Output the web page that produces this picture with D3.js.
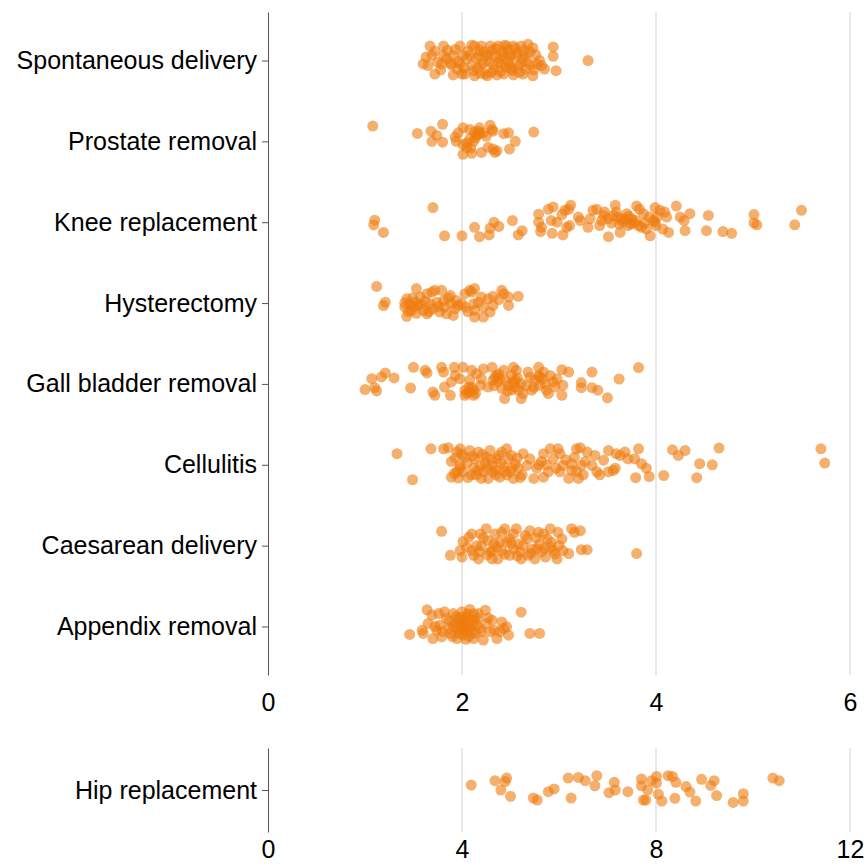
<!DOCTYPE html>
<html>
<head>
<meta charset="utf-8">
<script src="https://cdn.jsdelivr.net/npm/d3@7"></script>
<style>
    body { margin: 0; background: #fff; }
    svg { display: block; font-family: "Liberation Sans", Arial, sans-serif; }
</style>
</head>
<body>
<div id="chart"></div>
<script>
// Each point is [length of stay, vertical jitter (-1..1)]
const spontaneous = [
    [1.67,-0.85],[1.81,-0.85],[1.98,-0.85],[2.13,-0.85],[2.20,-0.85],[2.29,-0.85],[2.37,-0.85],[2.46,-0.85],
    [2.53,-0.85],[2.61,-0.85],[2.68,-0.95],[2.73,-0.75],[2.94,-0.8],[2.94,-0.25],
    [1.69,-0.3],[1.81,-0.3],[1.91,-0.3],[2.01,-0.3],[2.08,-0.3],[2.17,-0.3],[2.25,-0.3],[2.34,-0.3],
    [2.43,-0.3],[2.49,-0.3],[2.56,-0.3],[2.65,-0.3],
    [1.60,0.2],[1.65,0.3],[1.79,0.2],[1.89,0.25],[1.98,0.2],[2.10,0.3],[2.20,0.2],[2.32,0.25],
    [2.41,0.2],[2.49,0.3],[2.60,0.2],[2.70,0.25],[2.77,0.2],[2.82,0.3],
    [1.72,0.8],[1.91,0.85],[2.03,0.8],[2.13,0.9],[2.24,0.8],[2.36,0.85],[2.43,0.8],[2.53,0.85],
    [2.63,0.8],[2.73,0.9],[2.97,0.6],[3.30,0.0],
    [1.75,0.1],[1.85,-0.6],[1.95,0.5],[2.05,-0.1],[2.12,0.6],[2.18,-0.6],[2.22,0.2],[2.27,-0.3],
    [2.30,0.7],[2.35,-0.7],[2.38,0.1],[2.42,-0.5],[2.45,0.4],[2.50,-0.2],[2.52,0.6],[2.55,-0.7],
    [2.58,0.3],[2.62,-0.1],[2.66,0.5],[2.70,-0.5],[2.00,0.8],[2.10,-0.9],[2.26,0.9],[2.44,-0.9],[1.88,0.15],
    [1.72,-0.55],[1.78,0.55],[1.84,-0.1],[1.93,-0.65],[1.96,0.05],[2.02,0.45],[2.06,-0.55],[2.15,-0.15],
    [2.16,0.45],[2.23,-0.5],[2.28,0.05],[2.33,0.55],[2.39,-0.15],[2.40,0.65],[2.47,-0.6],[2.48,0.05],
    [2.51,0.45],[2.57,-0.45],[2.59,0.7],[2.64,-0.6],[2.67,0.05],[2.74,0.55],[2.76,-0.35],[2.80,0.0],
    [2.85,0.5],[1.63,-0.2],[2.19,0.75],[2.31,-0.6]
];
const prostate = [
    [1.08,-0.9],[1.54,-0.47],[1.68,-0.6],[1.74,-0.35],[1.69,0.0],[1.80,-1.0],[1.80,0.05],[1.93,-0.25],
    [1.94,0.0],[2.01,-0.8],[2.01,0.18],[2.01,0.76],[2.05,0.37],[2.10,0.7],[2.08,-0.7],[2.13,-0.55],
    [2.15,-0.35],[2.18,-0.8],[2.18,-0.45],[2.20,0.65],[2.27,0.35],[2.29,-0.95],[2.31,-0.7],[2.32,-0.6],
    [2.32,0.45],[2.34,0.65],[2.43,-0.45],[2.48,-0.5],[2.49,0.45],[2.55,0.0],[2.74,-0.55],[2.12,0.0],[2.08,-0.15],
    [2.14,-0.2],[2.17,-0.6],[2.22,-0.5],[2.05,0.1],[2.09,0.4],[2.25,-0.3],[2.36,0.55],[1.96,-0.5]
];
const knee = [
    [1.10,-0.12],[1.09,0.16],[1.19,0.6],[1.70,-0.86],[1.82,0.8],[2.00,0.8],[2.13,0.3],[2.18,0.85],
    [2.29,0.35],[2.28,0.75],[2.33,0.0],[2.38,0.25],[2.52,-0.1],[2.58,0.75],[2.62,0.5],[2.79,-0.47],
    [2.79,0.0],[2.82,0.3],[2.81,0.55],[2.89,-0.76],[2.94,-0.9],[2.92,-0.1],[2.93,0.65],[2.98,0.0],
    [3.04,0.75],[3.03,-0.45],[3.06,-0.7],[3.10,-0.76],[3.12,-1.0],[3.11,0.2],[3.08,0.3],[3.20,-0.3],
    [3.22,-0.1],[3.30,0.3],[3.32,-0.2],[3.35,-0.7],[3.39,-0.76],[3.44,-0.1],[3.47,-0.6],[3.51,-0.2],
    [3.51,0.85],[3.54,0.05],[3.58,-1.0],[3.59,-0.6],[3.61,-0.3],[3.63,0.6],[3.66,0.0],[3.70,-0.5],
    [3.71,0.2],[3.75,-0.2],[3.80,-0.95],[3.82,0.2],[3.83,-0.76],[3.87,-0.5],[3.90,0.4],[3.94,0.8],
    [3.99,-0.86],[3.99,0.0],[4.01,-0.3],[4.04,-0.7],[4.07,0.4],[4.09,-0.6],[4.11,-0.3],[4.13,0.6],
    [4.21,-0.95],[4.25,-0.3],[4.29,-0.1],[4.30,0.5],[4.35,-0.5],[4.52,0.5],[4.54,-0.4],[4.69,0.55],
    [4.78,0.65],[5.01,-0.45],[5.01,0.05],[5.04,0.15],[5.43,0.15],[5.50,-0.7],
    [3.56,-0.4],[3.68,-0.2],[3.77,0.05],[3.42,0.2],[3.85,0.3],[3.97,-0.1],[3.46,-0.4],
    [3.64,-0.15],[3.72,-0.35],[3.79,-0.1],[3.88,0.05],[3.93,-0.3],[3.62,0.1],[3.74,0.1],[4.00,0.2]
];
const hysterectomy = [
    [1.12,-0.98],[1.21,-0.05],[1.19,0.15],[1.53,-0.85],[1.43,-0.25],[1.41,0.24],[1.43,0.78],[1.48,0.43],
    [1.52,-0.05],[1.50,0.24],[1.57,-0.35],[1.60,0.43],[1.64,-0.55],[1.64,0.63],[1.67,0.04],[1.69,-0.65],
    [1.70,0.33],[1.72,-0.75],[1.77,0.53],[1.79,-0.75],[1.81,-0.15],[1.82,0.24],[1.84,0.63],[1.88,-0.45],
    [1.89,0.04],[1.91,0.73],[1.93,0.33],[1.94,-0.15],[2.00,0.04],[2.03,-0.55],[2.03,0.24],[2.08,-0.75],
    [2.10,-0.65],[2.13,-0.85],[2.12,0.04],[2.13,0.43],[2.13,0.82],[2.20,-0.35],[2.22,0.24],[2.22,0.82],
    [2.27,-0.25],[2.29,0.53],[2.32,-0.4],[2.32,0.14],[2.41,-0.75],[2.43,-0.55],[2.48,-0.35],[2.48,0.14],
    [2.58,-0.4],[1.46,0.04],[1.55,0.14],[1.74,-0.05],[1.96,0.14],[2.17,-0.05],[1.41,0.0],
    [1.45,0.5],[1.49,-0.3],[1.53,0.6],[1.58,0.1],[1.62,-0.1],[1.66,0.5],[1.76,0.2],[1.86,-0.3],
    [2.06,0.5],[2.38,-0.2]
];
const gallBladder = [
    [1.00,0.33],[1.07,-0.31],[1.10,0.22],[1.12,0.41],[1.17,-0.41],[1.21,-0.65],[1.30,-0.35],[1.47,0.24],
    [1.50,-0.98],[1.62,-0.8],[1.64,-0.65],[1.70,0.47],[1.72,0.67],[1.79,-0.98],[1.81,-0.7],[1.82,0.18],
    [1.88,0.67],[1.89,-0.12],[1.92,-0.98],[1.93,-0.5],[1.98,-0.3],[2.01,-0.98],[2.03,0.37],[2.03,0.67],
    [2.07,0.18],[2.08,-0.22],[2.10,-0.8],[2.12,0.37],[2.12,0.67],[2.15,-0.6],[2.19,0.08],[2.20,-0.3],
    [2.22,-0.88],[2.27,0.18],[2.31,-0.98],[2.32,-0.22],[2.36,-0.5],[2.37,-0.12],[2.41,0.27],[2.43,-0.8],
    [2.44,0.86],[2.48,0.08],[2.51,-0.5],[2.53,-0.98],[2.55,-0.22],[2.56,-0.8],[2.58,0.37],[2.61,-0.02],
    [2.61,0.86],[2.63,0.57],[2.68,-0.7],[2.72,0.37],[2.75,-0.22],[2.79,-0.98],[2.79,-0.5],[2.80,0.08],
    [2.84,-0.7],[2.87,0.37],[2.89,0.57],[2.91,-0.5],[2.94,-0.12],[2.96,0.18],[2.98,-0.3],[3.03,-0.84],
    [3.04,0.08],[3.03,0.67],[3.10,-0.7],[3.23,-0.08],[3.23,0.22],[3.34,-0.7],[3.34,0.22],[3.40,0.37],
    [3.50,0.82],[3.62,-0.29],[3.82,-0.96],
    [2.34,-0.4],[2.39,-0.3],[2.55,0.18],[2.80,-0.4],[2.08,0.47],[2.51,0.37],
    [2.33,0.1],[2.38,-0.6],[2.45,-0.2],[2.47,0.4],[2.57,-0.35],[2.66,0.1],[2.70,-0.4],[2.74,0.2],
    [2.83,-0.3],[2.05,0.55],[2.10,0.2],[2.14,0.55],[2.86,0.0],[2.53,-0.1]
];
const cellulitis = [
    [1.33,-0.65],[1.49,0.88],[1.68,-0.94],[1.81,-0.94],[1.86,-1.0],[1.89,-0.2],[1.89,0.73],[1.95,-0.75],
    [1.96,0.78],[1.98,-0.94],[1.98,0.04],[2.01,0.41],[2.03,-0.45],[2.08,-0.84],[2.10,0.59],[2.12,0.2],
    [2.13,-0.35],[2.17,-0.75],[2.19,0.04],[2.20,0.8],[2.22,0.41],[2.25,-0.45],[2.27,0.8],[2.29,-0.84],
    [2.31,0.04],[2.32,0.41],[2.36,-0.35],[2.39,0.73],[2.41,-0.75],[2.43,0.12],[2.46,-0.94],[2.48,-0.35],
    [2.50,0.41],[2.53,0.8],[2.55,-0.06],[2.58,0.2],[2.62,0.59],[2.63,-0.65],[2.67,0.04],[2.70,-0.35],
    [2.74,0.8],[2.77,0.2],[2.82,-0.2],[2.84,-0.65],[2.84,0.73],[2.89,0.41],[2.91,-0.94],[2.94,-0.35],
    [2.99,-0.94],[3.01,-0.65],[3.01,0.41],[3.04,0.04],[3.10,0.8],[3.13,-0.06],[3.13,0.33],[3.16,-0.45],
    [3.18,-0.94],[3.20,0.8],[3.22,-1.0],[3.23,0.04],[3.25,0.59],[3.29,-0.75],[3.34,0.04],[3.37,-0.55],
    [3.39,0.41],[3.42,0.59],[3.46,-0.27],[3.51,-0.84],[3.51,0.41],[3.56,0.33],[3.58,0.2],[3.59,-0.65],
    [3.63,-0.55],[3.68,-0.75],[3.71,-0.35],[3.78,-0.35],[3.79,0.76],[3.82,-0.94],[3.85,-0.06],[3.90,0.2],
    [3.93,0.69],[4.08,0.63],[4.17,-0.88],[4.23,-0.55],[4.30,-0.84],[4.42,0.76],[4.45,-0.06],[4.58,0.0],
    [4.65,-0.98],[5.70,-0.94],[5.74,-0.1],
    [1.95,0.41],[2.05,-0.1],[2.15,0.6],[2.24,-0.1],[2.34,0.3],[2.46,0.6],[2.51,-0.55],[2.79,0.0],
    [3.18,0.4],[1.98,0.2],
    [1.92,0.5],[2.00,-0.6],[2.06,0.75],[2.11,-0.5],[2.16,0.35],[2.21,-0.6],[2.26,0.2],[2.30,-0.3],
    [2.35,0.6],[2.38,-0.55],[2.44,0.4],[2.52,0.2],[2.57,-0.4],[2.60,0.75],[2.87,0.0],[2.97,0.2],
    [3.07,-0.3],[3.27,-0.2],[1.93,-0.4],[2.40,-0.1]
];
const caesarean = [
    [1.79,-0.84],[1.88,0.57],[1.98,0.29],[2.00,0.67],[2.01,-0.24],[2.07,-0.49],[2.10,-0.69],[2.10,0.29],
    [2.12,0.57],[2.17,0.78],[2.19,-0.69],[2.20,0.0],[2.25,-1.0],[2.27,-0.29],[2.29,0.37],[2.31,0.78],
    [2.34,-0.69],[2.36,0.1],[2.37,0.78],[2.41,-0.78],[2.41,0.29],[2.44,-1.0],[2.46,-0.2],[2.49,0.57],
    [2.53,-0.69],[2.56,-1.0],[2.58,-0.1],[2.60,0.37],[2.61,0.78],[2.67,-0.39],[2.68,0.57],[2.70,-0.88],
    [2.72,0.2],[2.75,0.78],[2.79,-0.78],[2.80,-0.1],[2.82,0.37],[2.84,-0.69],[2.86,0.67],[2.91,-1.0],
    [2.92,-0.2],[2.94,0.29],[2.98,0.78],[2.99,-0.78],[3.03,-0.39],[3.04,0.29],[3.10,0.47],[3.13,-1.0],
    [3.16,-0.78],[3.22,-0.88],[3.23,0.24],[3.29,0.24],[3.80,0.47],
    [2.15,0.0],[2.39,-0.2],[2.53,0.2],[2.63,0.0],[2.77,0.2],[2.91,0.1],[2.49,-0.4],[2.31,0.3],
    [2.05,0.1],[2.22,-0.45],[2.26,0.55],[2.33,-0.1],[2.44,0.5],[2.51,-0.1],[2.57,0.6],[2.65,-0.6],
    [2.71,0.45],[2.76,-0.45],[2.88,-0.4],[2.96,0.5],[3.00,0.0],[2.18,0.35],[2.85,0.15]
];
const appendix = [
    [1.46,0.47],[1.59,0.22],[1.60,0.41],[1.64,-0.98],[1.65,-0.18],[1.69,-0.67],[1.70,0.71],[1.74,0.22],
    [1.76,-0.76],[1.77,-0.08],[1.79,0.61],[1.82,-0.86],[1.84,-0.47],[1.86,0.12],[1.88,0.41],[1.91,-0.76],
    [1.93,-0.18],[1.95,0.71],[1.96,-0.47],[1.98,0.22],[2.00,-0.86],[2.01,0.51],[2.03,-0.27],[2.05,-0.57],
    [2.07,0.02],[2.08,-1.0],[2.10,0.31],[2.12,0.71],[2.13,-0.37],[2.17,-0.76],[2.19,0.12],[2.22,0.8],
    [2.24,-0.96],[2.25,-0.18],[2.29,0.31],[2.31,-0.37],[2.36,0.71],[2.39,0.31],[2.41,-0.27],[2.43,0.12],
    [2.46,0.02],[2.48,0.51],[2.61,-0.84],[2.70,0.41],[2.80,0.41],
    [1.98,-0.3],[2.01,0.0],[2.05,0.3],[2.08,-0.4],[1.95,0.1],[2.15,-0.1],[2.00,-0.55],[2.07,0.6],
    [1.91,0.0],[2.12,-0.75],
    [1.80,0.3],[1.87,-0.3],[1.90,0.6],[1.94,-0.6],[1.97,0.4],[2.02,-0.15],[2.04,0.75],[2.06,-0.75],
    [2.09,0.1],[2.11,-0.2],[2.14,0.4],[2.16,-0.5],[2.20,0.3],[2.27,-0.5],[2.33,0.2],[1.72,0.0],
    [1.99,0.0],[2.03,0.2]
];
const hip = [
    [4.19,-0.29],[4.68,-0.55],[4.92,-0.7],[4.89,-0.5],[4.80,0.0],[5.00,0.37],[5.47,0.47],[5.55,0.59],
    [5.78,0.1],[5.90,-0.06],[6.19,-0.7],[6.25,0.47],[6.40,-0.74],[6.54,-0.55],[6.74,-0.25],[6.78,-0.84],
    [7.03,0.16],[7.14,-0.45],[7.16,0.0],[7.42,0.1],[7.70,-0.65],[7.70,-0.25],[7.74,0.59],[7.79,0.59],
    [7.83,0.0],[7.91,-0.55],[8.01,-0.8],[8.01,-0.41],[8.05,0.25],[8.12,0.65],[8.25,-0.84],[8.34,-0.8],
    [8.41,-0.45],[8.39,0.49],[8.62,-0.2],[8.70,0.12],[8.82,0.65],[8.94,-0.63],[9.13,-0.27],[9.20,-0.55],
    [9.25,0.33],[9.59,0.73],[9.80,0.22],[9.80,0.65],[10.41,-0.7],[10.54,-0.55]
];

const categories = ["Spontaneous delivery", "Prostate removal", "Knee replacement", "Hysterectomy",
    "Gall bladder removal", "Cellulitis", "Caesarean delivery", "Appendix removal"];
const categoryData = [spontaneous, prostate, knee, hysterectomy, gallBladder, cellulitis, caesarean, appendix];
const mainTicks = [0, 2, 4, 6];
const hipTicks = [0, 4, 8, 12];

const width = 868, height = 865;
const left = 268, right = 850;
const dotColor = "#ee7b0d";
const jitterPx = 17;

const svg = d3.select("#chart").append("svg")
    .attr("width", width)
    .attr("height", height);

// ---- main panel ----
const x = d3.scaleLinear().domain([0, 6]).range([left, right]);
const y = d3.scalePoint().domain(categories).range([12, 675]).padding(0.6);

// gridlines
svg.append("g")
    .selectAll("line")
    .data(mainTicks.filter(d => d > 0))
    .enter().append("line")
    .attr("x1", d => x(d)).attr("x2", d => x(d))
    .attr("y1", 12).attr("y2", 675)
    .style("stroke", "#cfcfcf")
    .style("stroke-width", 1);

const points = categories.flatMap((c, i) => categoryData[i].map(p => ({cat: c, v: p[0], j: p[1]})));

svg.append("g")
    .selectAll("circle")
    .data(points)
    .enter().append("circle")
    .attr("cx", d => x(d.v))
    .attr("cy", d => y(d.cat) + d.j * jitterPx)
    .attr("r", 5.5)
    .style("fill", dotColor)
    .style("fill-opacity", 0.6);

const yAxis = svg.append("g")
    .attr("transform", `translate(${left},0)`)
    .call(d3.axisLeft(y).tickSize(6).tickSizeOuter(0).tickPadding(5));

const xAxis = svg.append("g")
    .attr("transform", "translate(0,675)")
    .call(d3.axisBottom(x).tickValues(mainTicks).tickFormat(d3.format("d")).tickSize(0).tickPadding(18));

// ---- hip replacement panel ----
const xHip = d3.scaleLinear().domain([0, 12]).range([left, right]);
const yHip = d3.scalePoint().domain(["Hip replacement"]).range([748, 832]).padding(0.5);

svg.append("g")
    .selectAll("line")
    .data(hipTicks.filter(d => d > 0))
    .enter().append("line")
    .attr("x1", d => xHip(d)).attr("x2", d => xHip(d))
    .attr("y1", 748).attr("y2", 832)
    .style("stroke", "#cfcfcf")
    .style("stroke-width", 1);

svg.append("g")
    .selectAll("circle")
    .data(hip)
    .enter().append("circle")
    .attr("cx", d => xHip(d[0]))
    .attr("cy", d => yHip("Hip replacement") + d[1] * jitterPx)
    .attr("r", 5.5)
    .style("fill", dotColor)
    .style("fill-opacity", 0.6);

const yHipAxis = svg.append("g")
    .attr("transform", `translate(${left},0)`)
    .call(d3.axisLeft(yHip).tickSize(6).tickSizeOuter(0).tickPadding(5));

// labels sit a little higher than the reference so they stay inside the frame
const xHipAxis = svg.append("g")
    .attr("transform", "translate(0,832)")
    .call(d3.axisBottom(xHip).tickValues(hipTicks).tickFormat(d3.format("d")).tickSize(0).tickPadding(8));

// styling shared by all axes
[yAxis, xAxis, yHipAxis, xHipAxis].forEach(a => {
    a.selectAll("text")
        .style("font-size", "25px")
        .style("fill", "#000")
        .style("font-family", "'Liberation Sans', Arial, sans-serif");
    a.selectAll("line").style("stroke", "#555");
    a.select(".domain").style("stroke", "#555");
});
xAxis.select(".domain").remove();
xHipAxis.select(".domain").remove();
</script>
</body>
</html>
